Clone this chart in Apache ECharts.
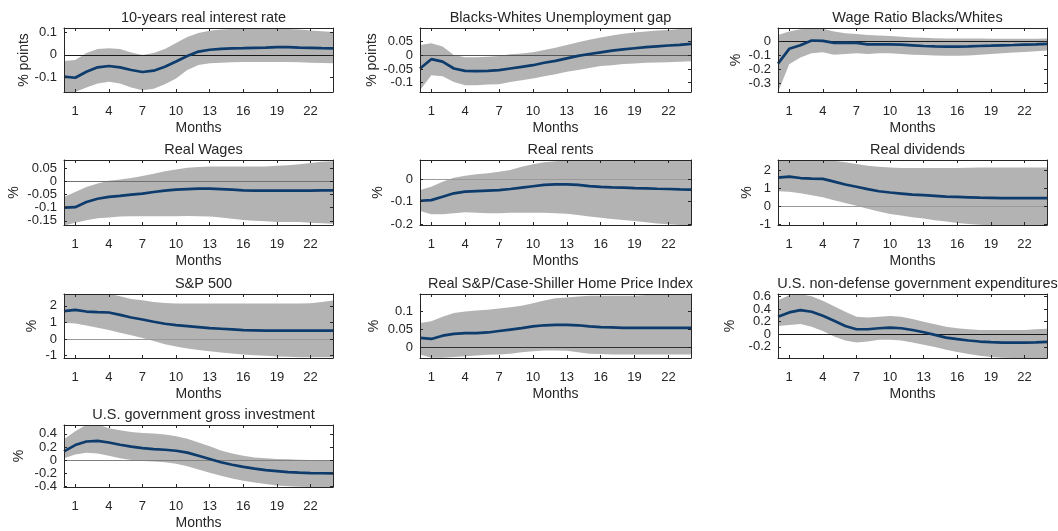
<!DOCTYPE html>
<html>
<head>
<meta charset="utf-8">
<script src="https://cdn.jsdelivr.net/npm/echarts@6/dist/echarts.min.js"></script>
<style>
  html, body { margin: 0; padding: 0; background: #ffffff; }
  #chart { width: 1058px; height: 531px; }
</style>
</head>
<body>
<div id="chart"></div>
<script>
// Horizon in months and the labelled ticks
const months = [0, 1, 2, 3, 4, 5, 6, 7, 8, 9, 10, 11, 12, 13, 14, 15, 16, 17, 18, 19, 20, 21, 22, 23, 24];
const monthTicks = [1, 4, 7, 10, 13, 16, 19, 22];

// 10-years real interest rate (% points)
const rateMid = [-0.098, -0.103, -0.076, -0.056, -0.050, -0.056, -0.068, -0.077, -0.071, -0.053, -0.030, -0.005, 0.015, 0.023, 0.027, 0.029, 0.030, 0.032, 0.033, 0.035, 0.035, 0.033, 0.032, 0.030, 0.029];
const rateUp  = [-0.027, -0.023, 0.008, 0.026, 0.030, 0.026, 0.011, 0.000, 0.008, 0.026, 0.053, 0.080, 0.098, 0.109, 0.114, 0.117, 0.117, 0.117, 0.117, 0.117, 0.117, 0.114, 0.110, 0.106, 0.103];
const rateLo  = [-0.167, -0.167, -0.147, -0.129, -0.121, -0.129, -0.147, -0.159, -0.152, -0.132, -0.106, -0.068, -0.045, -0.038, -0.035, -0.033, -0.032, -0.032, -0.032, -0.032, -0.032, -0.033, -0.035, -0.036, -0.038];
const rateTicks = [-0.1, 0, 0.1];

// Blacks-Whites unemployment gap (% points)
const gapMid = [-0.048, -0.014, -0.023, -0.048, -0.057, -0.058, -0.057, -0.054, -0.048, -0.042, -0.036, -0.027, -0.020, -0.011, -0.002, 0.005, 0.011, 0.017, 0.022, 0.026, 0.030, 0.033, 0.036, 0.038, 0.042];
const gapUp  = [0.038, 0.044, 0.032, 0.001, -0.007, -0.007, -0.005, -0.002, 0.004, 0.007, 0.011, 0.020, 0.028, 0.038, 0.048, 0.057, 0.065, 0.073, 0.079, 0.084, 0.087, 0.091, 0.093, 0.096, 0.098];
const gapLo  = [-0.128, -0.073, -0.076, -0.097, -0.109, -0.109, -0.107, -0.106, -0.097, -0.091, -0.085, -0.076, -0.069, -0.060, -0.054, -0.046, -0.039, -0.036, -0.032, -0.030, -0.027, -0.026, -0.025, -0.023, -0.022];
const gapTicks = [-0.1, -0.05, 0, 0.05];

// Wage ratio Blacks/Whites (%)
const ratioMid = [-0.158, -0.053, -0.028, 0.006, 0.004, -0.011, -0.009, -0.011, -0.021, -0.021, -0.021, -0.023, -0.028, -0.033, -0.036, -0.038, -0.038, -0.036, -0.033, -0.031, -0.028, -0.026, -0.023, -0.021, -0.018];
const ratioUp  = [0.045, 0.070, 0.087, 0.097, 0.090, 0.070, 0.058, 0.053, 0.045, 0.041, 0.038, 0.033, 0.028, 0.026, 0.023, 0.021, 0.021, 0.021, 0.021, 0.019, 0.018, 0.018, 0.018, 0.019, 0.021];
const ratioLo  = [-0.360, -0.163, -0.114, -0.085, -0.077, -0.095, -0.090, -0.085, -0.090, -0.085, -0.085, -0.090, -0.095, -0.097, -0.100, -0.102, -0.102, -0.100, -0.095, -0.090, -0.085, -0.080, -0.075, -0.070, -0.065];
const ratioTicks = [-0.3, -0.2, -0.1, 0];

// Real wages (%)
const wageMid = [-0.100, -0.098, -0.078, -0.066, -0.059, -0.055, -0.050, -0.046, -0.040, -0.035, -0.031, -0.029, -0.027, -0.027, -0.029, -0.031, -0.034, -0.035, -0.035, -0.035, -0.035, -0.035, -0.035, -0.034, -0.034];
const wageUp  = [-0.059, -0.040, -0.021, -0.008, 0.003, 0.008, 0.013, 0.021, 0.030, 0.039, 0.046, 0.052, 0.055, 0.057, 0.057, 0.057, 0.057, 0.057, 0.057, 0.060, 0.062, 0.066, 0.071, 0.075, 0.077];
const wageLo  = [-0.168, -0.157, -0.148, -0.140, -0.137, -0.134, -0.133, -0.133, -0.133, -0.133, -0.133, -0.132, -0.133, -0.134, -0.137, -0.142, -0.147, -0.150, -0.152, -0.155, -0.155, -0.155, -0.157, -0.159, -0.161];
const wageTicks = [-0.15, -0.1, -0.05, 0, 0.05];

// Real rents (%)
const rentMid = [-0.096, -0.093, -0.078, -0.063, -0.056, -0.053, -0.051, -0.049, -0.044, -0.038, -0.032, -0.026, -0.024, -0.024, -0.026, -0.031, -0.035, -0.037, -0.038, -0.040, -0.041, -0.043, -0.044, -0.046, -0.047];
const rentUp  = [-0.049, -0.034, -0.012, 0.006, 0.015, 0.021, 0.025, 0.032, 0.040, 0.054, 0.065, 0.074, 0.079, 0.084, 0.086, 0.087, 0.088, 0.088, 0.089, 0.089, 0.090, 0.090, 0.090, 0.090, 0.090];
const rentLo  = [-0.141, -0.156, -0.156, -0.151, -0.147, -0.149, -0.151, -0.151, -0.149, -0.149, -0.149, -0.149, -0.151, -0.153, -0.159, -0.166, -0.171, -0.176, -0.181, -0.185, -0.191, -0.196, -0.200, -0.203, -0.205];
const rentTicks = [-0.2, -0.1, 0];

// Real dividends (%)
const divMid = [1.60, 1.66, 1.58, 1.55, 1.53, 1.38, 1.22, 1.09, 0.96, 0.84, 0.77, 0.71, 0.65, 0.62, 0.58, 0.54, 0.52, 0.50, 0.48, 0.47, 0.46, 0.46, 0.46, 0.46, 0.46];
const divUp  = [2.65, 2.68, 2.68, 2.66, 2.63, 2.55, 2.46, 2.36, 2.27, 2.21, 2.17, 2.14, 2.14, 2.14, 2.14, 2.14, 2.14, 2.16, 2.17, 2.17, 2.17, 2.17, 2.17, 2.17, 2.17];
const divLo  = [0.84, 0.81, 0.73, 0.62, 0.50, 0.33, 0.18, 0.03, -0.14, -0.29, -0.43, -0.52, -0.62, -0.69, -0.79, -0.86, -0.94, -1.00, -1.04, -1.06, -1.07, -1.08, -1.08, -1.08, -1.08];
const divTicks = [-1, 0, 1, 2];

// S&P 500 (%)
const spMid = [1.68, 1.76, 1.66, 1.62, 1.60, 1.46, 1.30, 1.18, 1.04, 0.92, 0.84, 0.78, 0.72, 0.66, 0.62, 0.58, 0.54, 0.52, 0.50, 0.50, 0.50, 0.50, 0.50, 0.50, 0.50];
const spUp  = [2.80, 2.82, 2.82, 2.80, 2.74, 2.58, 2.42, 2.34, 2.24, 2.18, 2.14, 2.14, 2.14, 2.14, 2.14, 2.14, 2.14, 2.14, 2.14, 2.14, 2.14, 2.14, 2.16, 2.24, 2.32];
const spLo  = [0.98, 0.94, 0.82, 0.68, 0.54, 0.38, 0.22, 0.06, -0.12, -0.32, -0.46, -0.58, -0.66, -0.74, -0.82, -0.88, -0.94, -0.98, -1.02, -1.06, -1.08, -1.10, -1.10, -1.10, -1.10];
const spTicks = [-1, 0, 1, 2];

// Real S&P/Case-Shiller home price index (%)
const homeMid = [0.027, 0.024, 0.033, 0.038, 0.040, 0.040, 0.042, 0.046, 0.050, 0.054, 0.059, 0.062, 0.063, 0.063, 0.062, 0.059, 0.057, 0.056, 0.055, 0.055, 0.055, 0.055, 0.055, 0.055, 0.055];
const homeUp  = [0.068, 0.073, 0.086, 0.096, 0.100, 0.103, 0.105, 0.109, 0.112, 0.116, 0.123, 0.131, 0.137, 0.139, 0.142, 0.144, 0.144, 0.144, 0.144, 0.144, 0.146, 0.146, 0.146, 0.146, 0.146];
const homeLo  = [-0.019, -0.028, -0.028, -0.026, -0.024, -0.022, -0.020, -0.019, -0.017, -0.013, -0.010, -0.008, -0.008, -0.009, -0.013, -0.017, -0.018, -0.019, -0.019, -0.019, -0.019, -0.019, -0.019, -0.019, -0.019];
const homeTicks = [0, 0.05, 0.1, 0.15];

// U.S. non-defense government expenditures (%)
const govMid = [0.279, 0.347, 0.384, 0.358, 0.295, 0.216, 0.132, 0.079, 0.079, 0.095, 0.105, 0.095, 0.068, 0.032, -0.011, -0.053, -0.079, -0.100, -0.116, -0.126, -0.132, -0.132, -0.132, -0.130, -0.121];
const govUp  = [0.542, 0.621, 0.637, 0.605, 0.532, 0.447, 0.358, 0.279, 0.268, 0.279, 0.289, 0.279, 0.242, 0.200, 0.158, 0.121, 0.095, 0.079, 0.068, 0.068, 0.068, 0.068, 0.068, 0.079, 0.089];
const govLo  = [0.132, 0.147, 0.163, 0.121, 0.053, -0.037, -0.100, -0.132, -0.116, -0.089, -0.089, -0.100, -0.132, -0.168, -0.205, -0.247, -0.284, -0.316, -0.342, -0.363, -0.375, -0.378, -0.378, -0.378, -0.378];
const govTicks = [-0.2, 0, 0.2, 0.4, 0.6];

// U.S. government gross investment (%)
const invMid = [0.133, 0.230, 0.284, 0.294, 0.269, 0.235, 0.206, 0.182, 0.167, 0.158, 0.143, 0.114, 0.066, 0.017, -0.032, -0.070, -0.104, -0.129, -0.153, -0.167, -0.182, -0.192, -0.197, -0.200, -0.201];
const invUp  = [0.318, 0.439, 0.540, 0.545, 0.488, 0.454, 0.430, 0.415, 0.405, 0.390, 0.366, 0.328, 0.269, 0.211, 0.148, 0.100, 0.066, 0.041, 0.027, 0.017, 0.012, 0.005, 0.003, 0.002, 0.002];
const invLo  = [0.027, 0.085, 0.114, 0.100, 0.066, 0.027, 0.002, -0.012, -0.022, -0.032, -0.056, -0.095, -0.143, -0.192, -0.240, -0.279, -0.313, -0.342, -0.366, -0.386, -0.400, -0.408, -0.410, -0.410, -0.410];
const invTicks = [-0.4, -0.2, 0, 0.2, 0.4];

const panels = [
  { title: '10-years real interest rate', unit: '% points', mid: rateMid, up: rateUp, lo: rateLo, yMin: -0.167, yMax: 0.121, ticks: rateTicks },
  { title: 'Blacks-Whites Unemployment gap', unit: '% points', mid: gapMid, up: gapUp, lo: gapLo, yMin: -0.134, yMax: 0.100, ticks: gapTicks },
  { title: 'Wage Ratio Blacks/Whites', unit: '%', mid: ratioMid, up: ratioUp, lo: ratioLo, yMin: -0.36, yMax: 0.095, ticks: ratioTicks },
  { title: 'Real Wages', unit: '%', mid: wageMid, up: wageUp, lo: wageLo, yMin: -0.166, yMax: 0.082, ticks: wageTicks },
  { title: 'Real rents', unit: '%', mid: rentMid, up: rentUp, lo: rentLo, yMin: -0.203, yMax: 0.084, ticks: rentTicks },
  { title: 'Real dividends', unit: '%', mid: divMid, up: divUp, lo: divLo, yMin: -1.05, yMax: 2.59, ticks: divTicks },
  { title: 'S&P 500', unit: '%', mid: spMid, up: spUp, lo: spLo, yMin: -1.15, yMax: 2.72, ticks: spTicks },
  { title: 'Real S&P/Case-Shiller Home Price Index', unit: '%', mid: homeMid, up: homeUp, lo: homeLo, yMin: -0.029, yMax: 0.149, ticks: homeTicks },
  { title: 'U.S. non-defense government expenditures', unit: '%', mid: govMid, up: govUp, lo: govLo, yMin: -0.378, yMax: 0.64, ticks: govTicks },
  { title: 'U.S. government gross investment', unit: '%', mid: invMid, up: invUp, lo: invLo, yMin: -0.41, yMax: 0.536, ticks: invTicks }
];

// Subplot boxes (px), unit-label offsets and zero-line shades
const colLeft = [64, 420, 778];
const colWidth = [269, 271, 269];
const rowTop = [28, 160, 294, 425];
const rowHeight = [64, 65, 64, 65];
const unitGap = [33, 41, 35, 43, 35, 24, 25, 39, 41, 38];
const zeroShade = ['#1a1a1a', '#555555', '#1a1a1a', '#707070', '#9a9a9a', '#999999', '#999999', '#333333', '#1a1a1a', '#808080'];

const FONT = '"Liberation Sans", Arial, Helvetica, sans-serif';
const INK = '#262626';
const BAND = '#b3b3b3';
const NAVY = '#0d3b6c';

const option = {
  animation: false,
  backgroundColor: '#ffffff',
  textStyle: { fontFamily: FONT },
  title: [], grid: [], xAxis: [], yAxis: [], series: []
};

panels.forEach((p, i) => {
  const col = i % 3, row = Math.floor(i / 3);
  const left = colLeft[col], width = colWidth[col];
  const top = rowTop[row], height = rowHeight[row];

  option.grid.push({ left: left, top: top, width: width, height: height, containLabel: false });

  option.title.push({
    text: p.title,
    left: left + width / 2,
    top: top - 23,
    textAlign: 'center',
    textStyle: { fontSize: 14.5, fontWeight: 'normal', color: INK, fontFamily: FONT }
  });

  const boxLine = { show: true, onZero: false, lineStyle: { color: INK, width: 1 } };
  const tickIn = (vals) => ({ show: true, inside: true, length: 3, customValues: vals, lineStyle: { color: INK, width: 1 } });
  const yLabel = (vals) => ({
    customValues: vals, color: INK, fontSize: 13, margin: 7,
    hideOverlap: false, showMinLabel: true, showMaxLabel: true, fontFamily: FONT
  });

  // bottom axis with labels, top axis for the box and ticks
  option.xAxis.push({
    type: 'value', gridIndex: i, position: 'bottom', min: 0, max: 24, z: 10,
    axisLine: boxLine, axisTick: tickIn(monthTicks), splitLine: { show: false },
    axisLabel: { customValues: monthTicks, color: INK, fontSize: 13, margin: 13, hideOverlap: false, fontFamily: FONT },
    name: 'Months', nameLocation: 'middle', nameGap: 29,
    nameTextStyle: { color: INK, fontSize: 14, fontFamily: FONT }
  });
  option.xAxis.push({
    type: 'value', gridIndex: i, position: 'top', min: 0, max: 24, z: 10,
    axisLine: boxLine, axisTick: tickIn(monthTicks), splitLine: { show: false },
    axisLabel: { show: false }
  });

  // left axis: box edge, ticks, every other label and the unit name;
  // a twin on the same side carries the remaining labels so tight scales keep them all
  const evenTicks = p.ticks.filter((v, k) => k % 2 === 0);
  const oddTicks = p.ticks.filter((v, k) => k % 2 === 1);
  option.yAxis.push({
    type: 'value', gridIndex: i, position: 'left', min: p.yMin, max: p.yMax, z: 10,
    axisLine: boxLine, axisTick: tickIn(p.ticks), splitLine: { show: false },
    axisLabel: yLabel(evenTicks),
    name: p.unit, nameLocation: 'middle', nameGap: unitGap[i], nameRotate: 90,
    nameTextStyle: { color: INK, fontSize: 14, fontFamily: FONT }
  });
  option.yAxis.push({
    type: 'value', gridIndex: i, position: 'left', min: p.yMin, max: p.yMax, z: 10,
    axisLine: { show: false }, axisTick: { show: false }, splitLine: { show: false },
    axisLabel: oddTicks.length ? yLabel(oddTicks) : { show: false }
  });
  // right axis for the box and ticks
  option.yAxis.push({
    type: 'value', gridIndex: i, position: 'right', min: p.yMin, max: p.yMax, z: 10,
    axisLine: boxLine, axisTick: tickIn(p.ticks), splitLine: { show: false },
    axisLabel: { show: false }
  });

  const ax = { xAxisIndex: 2 * i, yAxisIndex: 3 * i };

  // confidence band: one polygon through the upper edge and back along the lower edge
  option.series.push(Object.assign({
    type: 'custom', silent: true, clip: true, z: 2,
    data: months.map((m, k) => [m, p.lo[k], p.up[k]]),
    encode: { x: 0, y: [1, 2] },
    renderItem: function (params, api) {
      if (params.dataIndex !== 0) return null;
      const upper = months.map((m, k) => api.coord([m, p.up[k]]));
      const lower = months.map((m, k) => api.coord([m, p.lo[k]])).reverse();
      const cs = params.coordSys;
      return {
        type: 'polygon',
        shape: { points: upper.concat(lower) },
        style: { fill: BAND, stroke: null },
        clipPath: { type: 'rect', shape: { x: cs.x, y: cs.y, width: cs.width, height: cs.height } }
      };
    }
  }, ax));

  // point estimate, with the zero reference line underneath it
  option.series.push(Object.assign({
    type: 'line', symbol: 'none', silent: true, z: 6,
    lineStyle: { color: NAVY, width: 2.7 }, emphasis: { disabled: true },
    data: months.map((m, k) => [m, p.mid[k]]),
    markLine: {
      silent: true, symbol: ['none', 'none'], label: { show: false }, z: 4,
      lineStyle: { color: zeroShade[i], width: 1, type: 'solid' },
      emphasis: { disabled: true },
      data: [{ yAxis: 0 }]
    }
  }, ax));
});

const chart = echarts.init(document.getElementById('chart'), null, { renderer: 'canvas' });
chart.setOption(option);
</script>
</body>
</html>
